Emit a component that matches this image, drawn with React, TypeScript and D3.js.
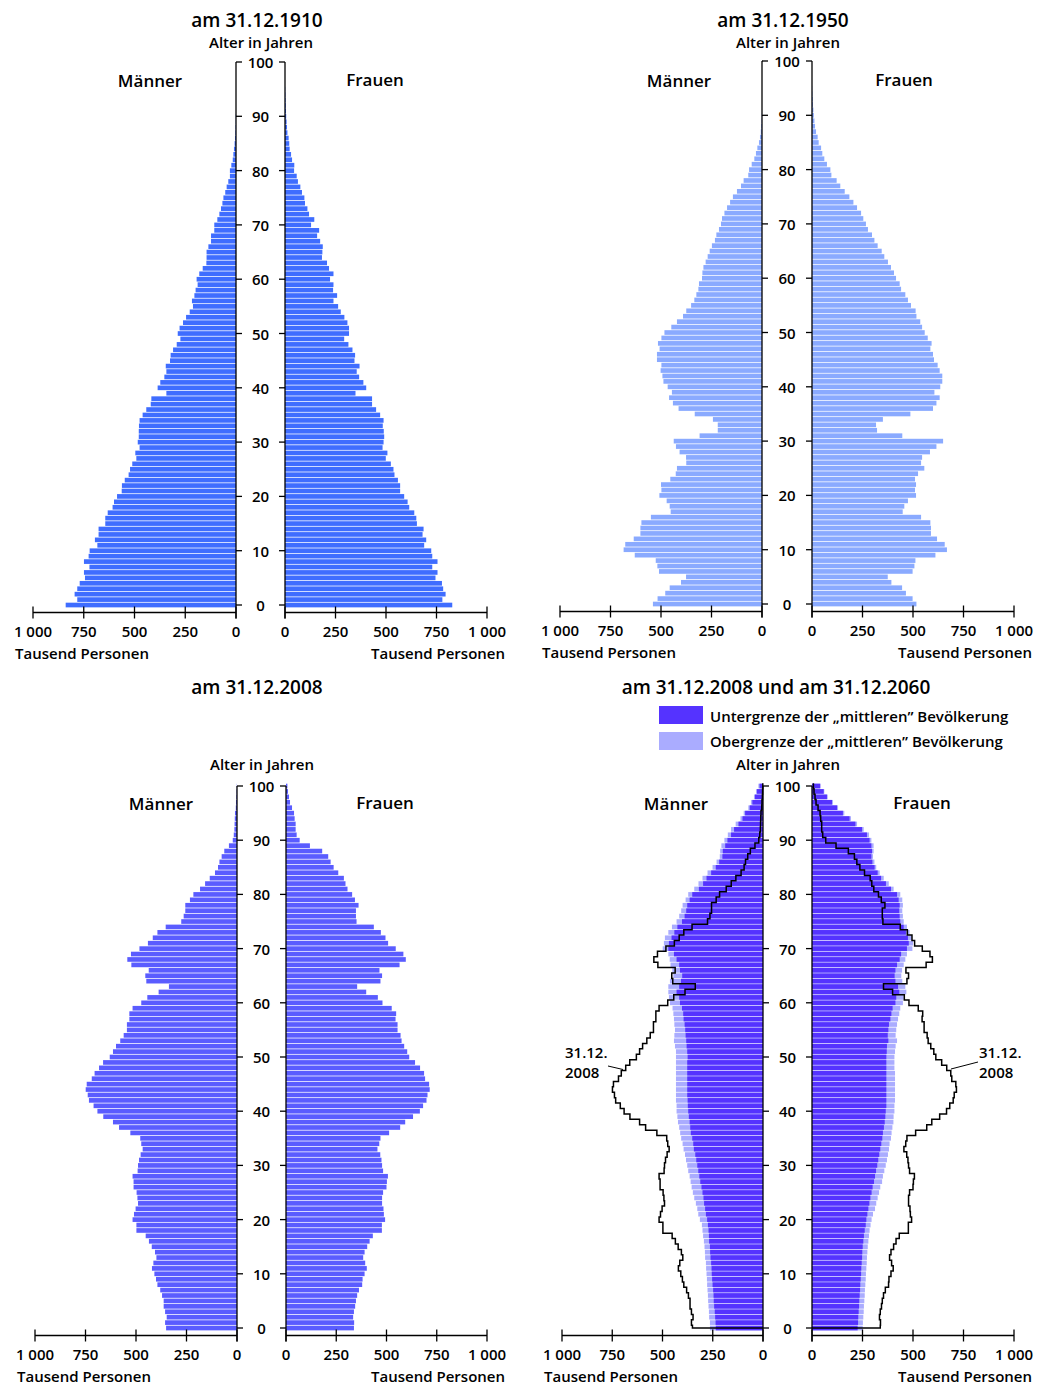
import React from "react";
import * as d3 from "d3";

// ---------- DATA (values in thousand persons, index = age 0..100) ----------
const AGES = d3.range(0, 101);
const AGE_TICKS = [0, 10, 20, 30, 40, 50, 60, 70, 80, 90, 100];
const X_TICKS = [0, 250, 500, 750, 1000];
const X_TICK_LABELS = ["0", "250", "500", "750", "1 000"];

const men1910 = [
  839, 782, 795, 782, 770, 744, 749, 722, 749, 726,
  721, 683, 695, 677, 677, 644, 644, 632, 608, 601,
  586, 563, 562, 548, 529, 522, 511, 491, 496, 475,
  484, 479, 479, 478, 475, 460, 442, 420, 417, 343,
  386, 373, 353, 343, 346, 325, 322, 310, 292, 274,
  287, 278, 261, 246, 228, 212, 217, 205, 199, 189,
  194, 181, 164, 146, 145, 145, 136, 123, 123, 107,
  107, 92, 82, 74, 67, 62, 53, 46, 38, 30,
  30, 23, 16, 13, 10, 7, 5, 3, 2, 1,
  1, 0, 0, 0, 0, 0, 0, 0, 0, 0, 0,
];
const women1910 = [
  828, 779, 795, 783, 777, 745, 755, 729, 755, 729,
  724, 689, 699, 681, 686, 653, 650, 640, 615, 607,
  590, 570, 570, 559, 542, 537, 524, 499, 507, 483,
  488, 491, 489, 484, 488, 471, 451, 431, 431, 349,
  402, 388, 367, 355, 369, 344, 347, 334, 314, 293,
  317, 317, 309, 294, 276, 263, 240, 258, 238, 240,
  223, 240, 218, 208, 183, 185, 187, 174, 159, 169,
  129, 145, 119, 111, 99, 96, 84, 76, 64, 58,
  45, 46, 35, 30, 23, 21, 18, 12, 10, 8,
  6, 5, 4, 3, 2, 1, 0, 0, 0, 0, 0,
];
const men1950 = [
  540, 517, 479, 457, 401, 376, 510, 518, 526, 630,
  685, 677, 635, 602, 602, 597, 550, 452, 457, 472,
  508, 498, 500, 454, 427, 421, 375, 376, 408, 426,
  437, 309, 219, 219, 243, 333, 413, 441, 460, 446,
  467, 488, 493, 502, 498, 520, 520, 507, 515, 498,
  483, 449, 421, 391, 375, 351, 335, 325, 315, 312,
  297, 295, 290, 279, 269, 259, 248, 233, 226, 213,
  203, 198, 186, 173, 158, 144, 124, 104, 91, 68,
  64, 51, 38, 30, 23, 15, 10, 6, 4, 2,
  1, 0, 0, 0, 0, 0, 0, 0, 0, 0, 0,
];
const women1950 = [
  517, 498, 465, 446, 393, 375, 498, 507, 512, 611,
  668, 657, 619, 589, 589, 586, 540, 449, 457, 475,
  515, 510, 515, 510, 525, 556, 540, 545, 584, 616,
  649, 447, 322, 317, 351, 487, 599, 616, 632, 606,
  635, 645, 645, 632, 622, 604, 599, 586, 592, 573,
  558, 545, 536, 517, 513, 490, 475, 462, 441, 434,
  416, 406, 391, 376, 358, 345, 325, 309, 297, 277,
  267, 254, 243, 223, 205, 185, 162, 140, 122, 96,
  91, 74, 61, 51, 45, 33, 28, 20, 15, 12,
  9, 7, 5, 4, 2, 1, 0, 0, 0, 0, 0,
];
const men2008 = [
  351, 356, 348, 356, 363, 363, 371, 380, 394, 401,
  409, 421, 414, 399, 406, 422, 436, 452, 498, 498,
  517, 510, 502, 490, 493, 497, 512, 512, 517, 492,
  490, 485, 477, 467, 474, 479, 528, 584, 614, 662,
  691, 710, 733, 739, 749, 744, 719, 705, 683, 663,
  630, 614, 599, 578, 561, 545, 545, 533, 533, 517,
  474, 444, 388, 337, 449, 454, 437, 523, 543, 525,
  483, 441, 417, 394, 353, 276, 264, 256, 256, 233,
  216, 183, 158, 135, 109, 94, 87, 76, 63, 40,
  21, 16, 13, 12, 11, 10, 6, 5, 3, 2, 1,
];
const women2008 = [
  338, 339, 334, 338, 344, 348, 354, 363, 379, 381,
  391, 402, 394, 384, 391, 404, 416, 432, 477, 477,
  493, 487, 485, 478, 478, 483, 500, 502, 507, 483,
  478, 475, 469, 455, 464, 470, 513, 568, 593, 632,
  666, 682, 699, 704, 715, 712, 692, 687, 667, 642,
  613, 603, 588, 575, 570, 555, 555, 545, 548, 526,
  480, 457, 399, 354, 470, 478, 465, 565, 596, 584,
  546, 508, 495, 472, 437, 351, 348, 348, 361, 343,
  329, 306, 296, 288, 260, 237, 222, 210, 180, 119,
  68, 53, 48, 48, 43, 40, 30, 20, 15, 10, 7,
];
// 2060: lower bound ("Untergrenze") and upper bound ("Obergrenze") of the "mittlere" Bevölkerung
const men2060lower = [
  235, 236, 238, 240, 243, 245, 246, 248, 251, 253,
  255, 256, 258, 261, 263, 264, 268, 269, 271, 274,
  278, 284, 288, 293, 296, 301, 306, 312, 317, 322,
  327, 332, 337, 344, 347, 352, 359, 362, 365, 369,
  372, 374, 375, 377, 377, 377, 377, 377, 377, 377,
  375, 377, 380, 382, 385, 387, 390, 395, 397, 403,
  413, 417, 430, 417, 408, 402, 413, 417, 430, 443,
  471, 468, 455, 441, 426, 403, 390, 382, 377, 365,
  352, 319, 298, 281, 258, 235, 218, 202, 200, 188,
  177, 159, 144, 122, 102, 89, 66, 53, 40, 30, 17,
];
const men2060upper = [
  264, 264, 268, 269, 271, 273, 274, 276, 278, 279,
  281, 283, 284, 288, 289, 291, 294, 298, 301, 304,
  314, 322, 327, 334, 342, 349, 355, 360, 365, 372,
  377, 383, 388, 395, 400, 407, 412, 417, 423, 426,
  430, 430, 433, 433, 433, 433, 433, 433, 433, 433,
  433, 433, 438, 443, 441, 438, 441, 443, 446, 450,
  463, 468, 471, 471, 463, 446, 451, 460, 464, 471,
  499, 493, 488, 471, 453, 430, 417, 407, 400, 385,
  372, 342, 321, 301, 276, 251, 231, 215, 213, 207,
  192, 175, 159, 136, 112, 96, 73, 60, 45, 35, 23,
];
const women2060lower = [
  226, 228, 229, 231, 233, 234, 236, 238, 239, 241,
  243, 244, 246, 248, 249, 251, 254, 257, 261, 266,
  269, 274, 279, 284, 289, 295, 300, 307, 312, 317,
  323, 328, 333, 338, 343, 348, 351, 356, 360, 363,
  365, 368, 368, 368, 368, 368, 368, 368, 368, 368,
  368, 370, 371, 378, 375, 378, 381, 388, 393, 399,
  413, 417, 432, 426, 413, 409, 413, 421, 434, 441,
  470, 479, 475, 465, 454, 437, 434, 432, 434, 429,
  421, 391, 366, 342, 325, 310, 299, 294, 297, 294,
  285, 272, 248, 215, 186, 153, 124, 99, 74, 58, 41,
];
const women2060upper = [
  251, 252, 254, 256, 257, 259, 261, 262, 264, 266,
  267, 269, 271, 272, 274, 276, 279, 282, 285, 290,
  295, 302, 312, 318, 325, 332, 338, 347, 351, 358,
  365, 371, 376, 381, 384, 391, 394, 398, 403, 404,
  408, 408, 411, 411, 411, 411, 411, 411, 408, 408,
  408, 411, 414, 421, 414, 417, 421, 426, 432, 437,
  450, 454, 467, 462, 447, 442, 446, 454, 462, 470,
  497, 500, 493, 483, 470, 454, 450, 447, 450, 447,
  437, 404, 380, 355, 335, 318, 309, 302, 305, 305,
  294, 282, 256, 223, 193, 160, 129, 104, 78, 61, 41,
];

const COLOR_1910 = "#3f6dff";
const COLOR_1950 = "#8aaaff";
const COLOR_2008 = "#5a5cff";
const COLOR_LOW = "#5533ff";
const COLOR_HIGH = "#aaacff";

const FONT = "'Open Sans', 'Noto Sans', sans-serif";

type Layer = { men: number[]; women: number[]; color: string };

function Pyramid(props: {
  mz: number; m1000: number; wz: number; w1000: number;
  y0: number; y100: number;
  layers: Layer[];
  outline?: { men: number[]; women: number[] };
}) {
  const { mz, m1000, wz, w1000, y0, y100, layers, outline } = props;
  const xm = d3.scaleLinear().domain([0, 1000]).range([mz, m1000]);
  const xw = d3.scaleLinear().domain([0, 1000]).range([wz, w1000]);
  const y = d3.scaleLinear().domain([0, 100]).range([y0, y100]);
  const step = Math.abs(y(1) - y(0));
  const barH = step - 0.75;
  const axisY = y0 + 7.5;
  const midX = (mz + wz) / 2;

  const stepLine = d3
    .line<[number, number]>()
    .x((d) => d[0])
    .y((d) => d[1])
    .curve(d3.curveStepAfter);

  const outlinePath = (vals: number[], xs: d3.ScaleLinear<number, number>) =>
    stepLine([
      [xs(0), y(0)] as [number, number],
      ...AGES.map((a) => [xs(vals[a]), y(a) - step / 2] as [number, number]),
    ]) || "";

  return (
    <g>
      {layers.map((L, li) => (
        <g key={li} fill={L.color}>
          {AGES.map((a) =>
            L.men[a] > 0 ? (
              <rect key={"m" + a} x={xm(L.men[a])} y={y(a) - step / 2 + 0.4}
                width={mz - xm(L.men[a])} height={barH} />
            ) : null
          )}
          {AGES.map((a) =>
            L.women[a] > 0 ? (
              <rect key={"w" + a} x={wz} y={y(a) - step / 2 + 0.4}
                width={xw(L.women[a]) - wz} height={barH} />
            ) : null
          )}
        </g>
      ))}
      {outline && (
        <g fill="none" stroke="#000" strokeWidth={1.5} strokeLinejoin="miter">
          <path d={outlinePath(outline.men, xm)} />
          <path d={outlinePath(outline.women, xw)} />
        </g>
      )}
      {/* vertical age axes */}
      <g stroke="#000" strokeWidth={1.3}>
        <line x1={mz} x2={mz} y1={y(100)} y2={axisY + 6} />
        <line x1={wz} x2={wz} y1={y(100)} y2={axisY + 6} />
        {AGE_TICKS.map((t) => (
          <g key={t}>
            <line x1={mz} x2={mz + 6} y1={y(t)} y2={y(t)} />
            <line x1={wz - 6} x2={wz} y1={y(t)} y2={y(t)} />
          </g>
        ))}
        {/* horizontal axes */}
        <line x1={m1000} x2={mz} y1={axisY} y2={axisY} />
        <line x1={wz} x2={w1000} y1={axisY} y2={axisY} />
        {X_TICKS.map((t) => (
          <g key={t}>
            <line x1={xm(t)} x2={xm(t)} y1={axisY - 6} y2={axisY + 6} />
            <line x1={xw(t)} x2={xw(t)} y1={axisY - 6} y2={axisY + 6} />
          </g>
        ))}
      </g>
      <g fontFamily={FONT} fontWeight={600} fontSize={15} fill="#000" textAnchor="middle">
        {AGE_TICKS.map((t) => (
          <text key={t} x={midX} y={y(t)} dominantBaseline="central">{t}</text>
        ))}
        {X_TICKS.map((t, i) => (
          <g key={t}>
            <text x={xm(t)} y={axisY + 24}>{X_TICK_LABELS[i]}</text>
            <text x={xw(t)} y={axisY + 24}>{X_TICK_LABELS[i]}</text>
          </g>
        ))}
        <text x={m1000 - 18} y={axisY + 46} textAnchor="start">Tausend Personen</text>
        <text x={w1000 + 18} y={axisY + 46} textAnchor="end">Tausend Personen</text>
      </g>
    </g>
  );
}

export default function App() {
  const txt = { fontFamily: FONT, fontWeight: 600, fill: "#000" } as const;
  return (
    <svg width={1040} height={1390} style={{ position: "absolute", left: 0, top: 0, background: "#fff" }}>
      {/* Panel 1: 1910 */}
      <text {...txt} x={257} y={27} fontSize={19} textAnchor="middle">am 31.12.1910</text>
      <text {...txt} x={261} y={48} fontSize={15} textAnchor="middle">Alter in Jahren</text>
      <text {...txt} x={150} y={87} fontSize={17} textAnchor="middle">Männer</text>
      <text {...txt} x={375} y={86} fontSize={17} textAnchor="middle">Frauen</text>
      <Pyramid mz={236} m1000={33} wz={285} w1000={487} y0={605} y100={62}
        layers={[{ men: men1910, women: women1910, color: COLOR_1910 }]} />

      {/* Panel 2: 1950 */}
      <text {...txt} x={783} y={27} fontSize={19} textAnchor="middle">am 31.12.1950</text>
      <text {...txt} x={788} y={48} fontSize={15} textAnchor="middle">Alter in Jahren</text>
      <text {...txt} x={679} y={87} fontSize={17} textAnchor="middle">Männer</text>
      <text {...txt} x={904} y={86} fontSize={17} textAnchor="middle">Frauen</text>
      <Pyramid mz={762} m1000={560} wz={812} w1000={1014} y0={604} y100={61}
        layers={[{ men: men1950, women: women1950, color: COLOR_1950 }]} />

      {/* Panel 3: 2008 */}
      <text {...txt} x={257} y={694} fontSize={19} textAnchor="middle">am 31.12.2008</text>
      <text {...txt} x={262} y={770} fontSize={15} textAnchor="middle">Alter in Jahren</text>
      <text {...txt} x={161} y={810} fontSize={17} textAnchor="middle">Männer</text>
      <text {...txt} x={385} y={809} fontSize={17} textAnchor="middle">Frauen</text>
      <Pyramid mz={237} m1000={35} wz={286} w1000={487} y0={1328} y100={786}
        layers={[{ men: men2008, women: women2008, color: COLOR_2008 }]} />

      {/* Panel 4: 2008 and 2060 */}
      <text {...txt} x={776} y={694} fontSize={19} textAnchor="middle">am 31.12.2008 und am 31.12.2060</text>
      <rect x={659} y={706} width={44} height={18} fill={COLOR_LOW} />
      <rect x={659} y={732} width={44} height={18} fill={COLOR_HIGH} />
      <text {...txt} x={710} y={716} fontSize={15} dominantBaseline="central">Untergrenze der „mittleren” Bevölkerung</text>
      <text {...txt} x={710} y={741} fontSize={15} dominantBaseline="central">Obergrenze der „mittleren” Bevölkerung</text>
      <text {...txt} x={788} y={770} fontSize={15} textAnchor="middle">Alter in Jahren</text>
      <text {...txt} x={676} y={810} fontSize={17} textAnchor="middle">Männer</text>
      <text {...txt} x={922} y={809} fontSize={17} textAnchor="middle">Frauen</text>
      <Pyramid mz={763} m1000={562} wz={812} w1000={1014} y0={1328} y100={786}
        layers={[
          { men: men2060upper, women: women2060upper, color: COLOR_HIGH },
          { men: men2060lower, women: women2060lower, color: COLOR_LOW },
        ]}
        outline={{ men: men2008, women: women2008 }} />
      <g {...txt} fontSize={15}>
        <text x={565} y={1058}>31.12.</text>
        <text x={565} y={1078}>2008</text>
        <text x={979} y={1058}>31.12.</text>
        <text x={979} y={1078}>2008</text>
      </g>
      <g stroke="#000" strokeWidth={1}>
        <line x1={608} y1={1066} x2={623} y2={1069.5} />
        <line x1={978} y1={1062} x2={951} y2={1069} />
      </g>
    </svg>
  );
}
